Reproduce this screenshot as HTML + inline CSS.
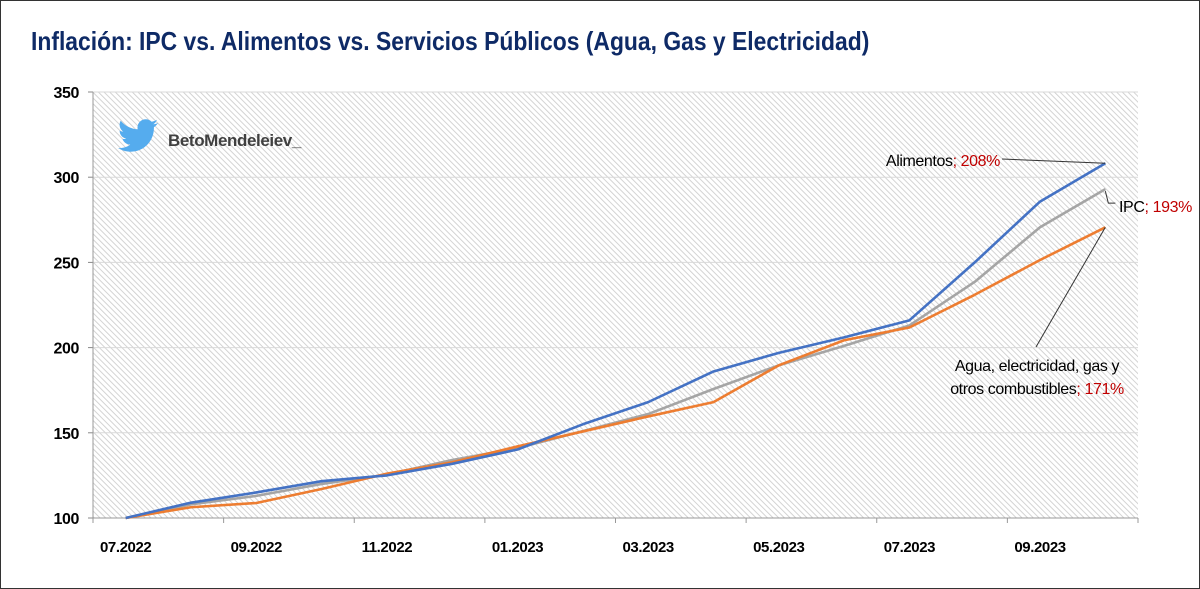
<!DOCTYPE html>
<html><head><meta charset="utf-8"><style>
body{margin:0;background:#fff}
#wrap{position:relative;width:1198px;height:587px;border:1px solid #333;background:#fff;overflow:hidden}
#title{position:absolute;left:30px;top:25px;font:bold 26px "Liberation Sans",sans-serif;color:#0e2a66;white-space:nowrap;transform:scaleX(0.88);transform-origin:left top}
svg text{font-family:"Liberation Sans",sans-serif;letter-spacing:-0.4px}
</style></head><body>
<div id="wrap">
<div id="title">Inflación: IPC vs. Alimentos vs. Servicios Públicos (Agua, Gas y Electricidad)</div>
<svg id="chart" width="1200" height="589" style="position:absolute;left:-1px;top:-1px">
<defs><pattern id="hatch" width="4" height="4" patternUnits="userSpaceOnUse" patternTransform="rotate(-45)"><rect width="4" height="4" fill="#fff"/><line x1="0" y1="0" x2="0" y2="4" stroke="#cfcfcf" stroke-width="1.8"/></pattern></defs>
<g id="plot"></g>
</svg>
</div>
<script>
const categories=["07.2022","08.2022","09.2022","10.2022","11.2022","12.2022","01.2023","02.2023","03.2023","04.2023","05.2023","06.2023","07.2023","08.2023","09.2023","10.2023"];
const tickLabels=["07.2022","09.2022","11.2022","01.2023","03.2023","05.2023","07.2023","09.2023"];
const yTicks=[100,150,200,250,300,350];
const alimentos=[100,109,115,121.6,125,131.8,140.2,155,168,186,196.9,206,216,250,285.7,308.2];
const ipc=[100,108,113,120,125.5,134,141,151,161,175.7,189.6,201,213,238.6,270.6,293];
const agua=[100,106.3,108.8,117,126,132.7,142,150.8,159.6,168,189.6,204.3,211.8,231,251.4,270.6];
const ns="http://www.w3.org/2000/svg";
const g=document.getElementById('plot');
const L=93,R=1138,T=92,B=518;
const step=(R-L)/categories.length;
const x=i=>L+step*(i+0.5);
const y=v=>B-(v-100)/(350-100)*(B-T);
function mk(t,a,p){const e=document.createElementNS(ns,t);for(const k in a)e.setAttribute(k,a[k]);(p||g).appendChild(e);return e;}
const bg=mk('rect',{x:L,y:T,width:R-L,height:B-T,fill:'url(#hatch)'});


yTicks.forEach(v=>{
 if(v>100){const gl=mk('line',{x1:L,x2:R,y1:y(v),y2:y(v),stroke:'#d9d9d9','stroke-width':1});
 
 }
 mk('line',{x1:L-5,x2:L,y1:y(v),y2:y(v),stroke:'#888'});
 const t=mk('text',{x:L-14,y:y(v)+6,'text-anchor':'end','font-size':16,'font-weight':'bold',fill:'#000'});
 t.textContent=v;
 
 
});
mk('line',{x1:L,x2:L,y1:T,y2:B,stroke:'#999'});
mk('line',{x1:L,x2:R,y1:B,y2:B,stroke:'#999'});
for(let i=0;i<=categories.length;i+=2){mk('line',{x1:L+step*i,x2:L+step*i,y1:B,y2:B+5,stroke:'#999'});}
mk('line',{x1:R,x2:R,y1:B,y2:B+5,stroke:'#999'});
tickLabels.forEach(lbl=>{const i=categories.indexOf(lbl);
 const t=mk('text',{x:x(i),y:B+34,'text-anchor':'middle','font-size':15,'font-weight':'bold',fill:'#000'});
 t.textContent=lbl;
 
 });
function series(d,c,name){const p=mk('polyline',{points:d.map((v,i)=>x(i)+','+y(v)).join(' '),fill:'none',stroke:c,'stroke-width':2.6,'stroke-linejoin':'round'});
 
 }
series(ipc,'#a5a5a5','ipc-line');
series(agua,'#ed7d31','agua-line');
series(alimentos,'#4472c4','alimentos-line');
const n=categories.length-1;
mk('line',{x1:1002,y1:159,x2:x(n),y2:y(alimentos[n]),stroke:'#333','stroke-width':1});
mk('polyline',{points:`${x(n)},${y(ipc[n])+2} ${x(n)+3},${y(ipc[n])+14} ${x(n)+10},${y(ipc[n])+14}`,fill:'none',stroke:'#333','stroke-width':1});
mk('line',{x1:1036,y1:347,x2:x(n),y2:y(agua[n]),stroke:'#333','stroke-width':1});
function lab(xx,yy,a,b,anchor,name){const t=mk('text',{x:xx,y:yy,'text-anchor':anchor,'font-size':16,fill:'#000'});
 
 
 const s1=mk('tspan',{},t);s1.textContent=a;const s2=mk('tspan',{fill:'#c00000'},t);s2.textContent=b;}
lab(1000,166,'Alimentos','; 208%','end','alimentos-label');
lab(1119,212,'IPC','; 193%','start','ipc-label');
lab(1037,371,'Agua, electricidad, gas y','','middle','agua-label-line1');
lab(1037,394,'otros combustibles','; 171%','middle','agua-label-line2');
const bird=mk('path',{d:'M158,123c-1.5,0.7-3,1.1-4.7,1.3c1.7-1,3-2.6,3.6-4.5c-1.6,0.9-3.3,1.6-5.2,2c-1.5-1.6-3.6-2.6-6-2.6c-4.5,0-8.2,3.7-8.2,8.2c0,0.6,0.1,1.3,0.2,1.9c-6.8-0.3-12.9-3.6-17-8.6c-0.7,1.2-1.1,2.6-1.1,4.1c0,2.8,1.5,5.4,3.7,6.8c-1.3,0-2.6-0.4-3.7-1c0,4,2.8,7.3,6.6,8.1c-0.7,0.2-1.4,0.3-2.200,0.3c-0.5,0-1,0-1.5-0.1c1,3.3,4.1,5.7,7.7,5.7c-2.8,2.2-6.3,3.5-10.2,3.5c-0.7,0-1.3,0-2-0.1c3.6,2.3,7.9,3.7,12.6,3.7c15.1,0,23.3-12.5,23.3-23.3l0-1.1c1.6-1.2,3-2.6,4.1-4.2z',fill:'#55acee'});


const h=mk('text',{x:168,y:146,'font-size':17,'font-weight':'bold',fill:'#404040'});
h.textContent='BetoMendeleiev_';


</script>
</body></html>
